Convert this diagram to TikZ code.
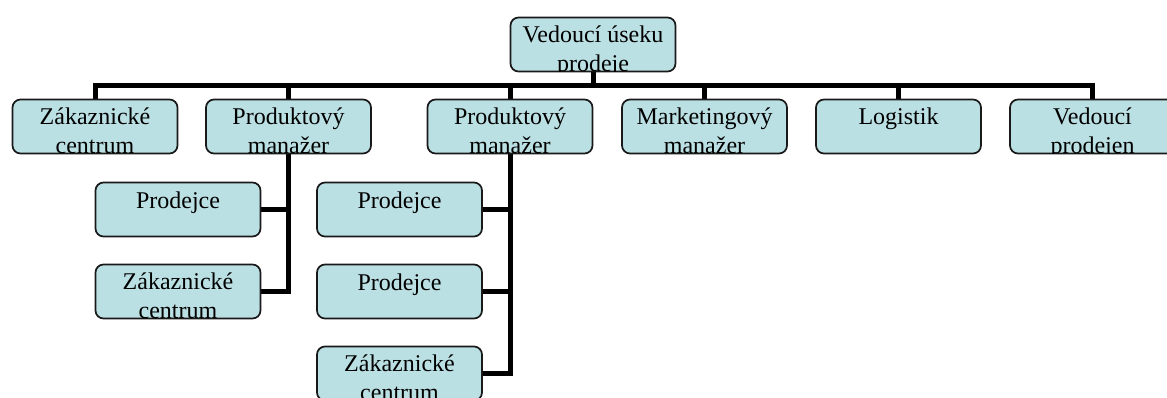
\documentclass[tikz,border=0pt]{standalone}
\usepackage{fontspec}
\setmainfont{Liberation Serif}
\usetikzlibrary{calc}
\definecolor{boxfill}{RGB}{187,224,227}
\tikzset{
  orgbox/.style={draw=black!90, line width=1.7pt, fill=boxfill, rounded corners=8pt,
    minimum width=165pt, minimum height=54pt, inner sep=0pt},
  orgtext/.style={anchor=base, inner sep=0pt, font=\fontsize{24}{28}\selectfont, text=black},
  conn/.style={line width=5pt, line join=miter, line cap=rect, draw=black}
}
% #1 name, #2 position, #3 first line, #4 second line, #5 offset of first baseline, #6 offset of second baseline
\newcommand\orgunit[6]{%
  \node[orgbox] (#1) at (#2) {};
  \begin{scope}
    \clip ($(#1.south west)+(1pt,1pt)$) rectangle ($(#1.north east)+(-1pt,-1pt)$);
    \node[orgtext] (#1-a) at ($(#1.north)+(0,#5)$) {#3};
    \node[orgtext] (#1-b) at ($(#1.north)+(0,#6)$) {#4};
  \end{scope}
}
\begin{document}
\begin{tikzpicture}[x=1pt,y=-1pt]
\useasboundingbox (0,0) rectangle (1167,397);
\clip (0,0) rectangle (1167,397);
% box placeholders for connectors
\coordinate (c-top) at (593,44.5);
\coordinate (c-z1) at (95,126.5);
\coordinate (c-pm1) at (288.5,126.5);
\coordinate (c-pm2) at (510,126.5);
\coordinate (c-mm) at (704.5,126.5);
\coordinate (c-lg) at (898.5,126.5);
\coordinate (c-vp) at (1092.5,126.5);
\coordinate (c-p1) at (178,209.5);
\coordinate (c-zc2) at (178,291.5);
\coordinate (c-p2) at (399.5,209.5);
\coordinate (c-p3) at (399.5,291.5);
\coordinate (c-zc3) at (399.5,373.5);
\coordinate (bar) at (593,85.5);
% connectors
\draw[conn] (c-top) -- (bar);
\draw[conn] (c-z1) |- (bar) -| (c-vp);
\foreach \n in {pm1,pm2,mm,lg} \draw[conn] (c-\n) -- (c-\n |- bar);
\draw[conn] (c-pm1) |- (c-zc2);
\draw[conn] (c-pm1 |- c-p1) -- (c-p1);
\draw[conn] (c-pm2) |- (c-zc3);
\draw[conn] (c-pm2 |- c-p2) -- (c-p2);
\draw[conn] (c-pm2 |- c-p3) -- (c-p3);
% boxes
\orgunit{top}{c-top}{Vedoucí úseku}{prodeje}{25.5}{54.5}
\orgunit{z1}{c-z1}{Zákaznické}{centrum}{26}{55}
\orgunit{pm1}{c-pm1}{Produktový}{manažer}{26}{55}
\orgunit{pm2}{c-pm2}{Produktový}{manažer}{26}{55}
\orgunit{mm}{c-mm}{Marketingový}{manažer}{26}{55}
\orgunit{lg}{c-lg}{Logistik}{}{26}{55}
\orgunit{vp}{c-vp}{Vedoucí}{prodejen}{26}{55}
\orgunit{p1}{c-p1}{Prodejce}{}{26.5}{55}
\orgunit{zc2}{c-zc2}{Zákaznické}{centrum}{26}{55}
\orgunit{p2}{c-p2}{Prodejce}{}{26.5}{55}
\orgunit{p3}{c-p3}{Prodejce}{}{26.5}{55}
\orgunit{zc3}{c-zc3}{Zákaznické}{centrum}{26}{55}
\end{tikzpicture}
\end{document}
